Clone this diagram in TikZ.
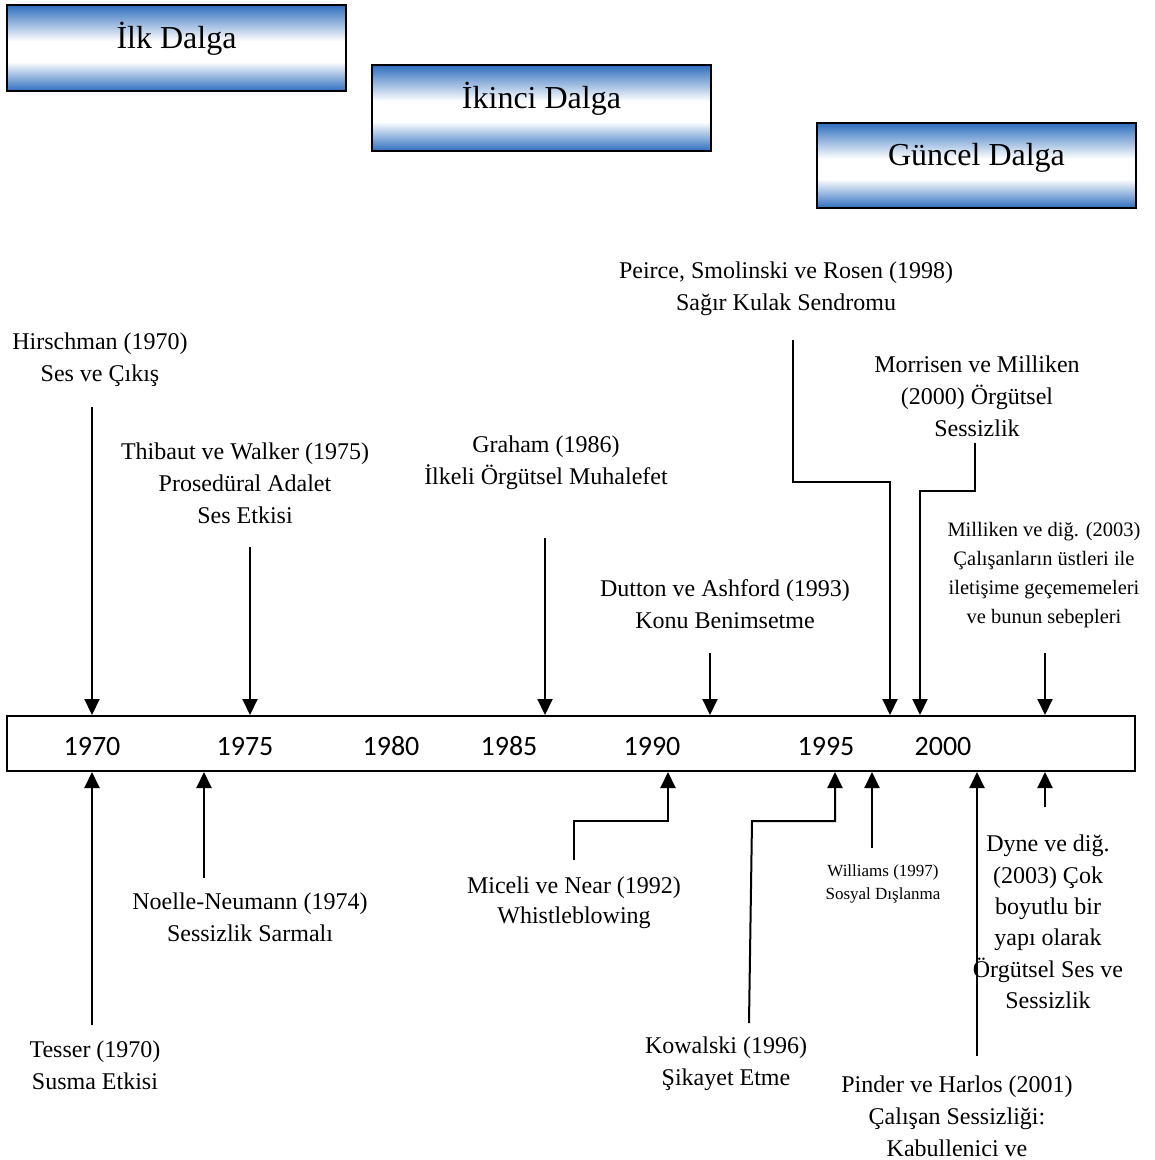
\documentclass[tikz,border=0pt]{standalone}
\usepackage{fontspec}
\setmainfont{Liberation Serif}
\newfontfamily\yearfont{Carlito}
\usetikzlibrary{arrows.meta}
\definecolor{waveblue}{RGB}{46,110,190}
\pgfdeclareverticalshading{wavefill}{100bp}{%
  color(0bp)=(waveblue); color(25bp)=(waveblue); color(42bp)=(white);
  color(54bp)=(white); color(75bp)=(waveblue); color(100bp)=(waveblue)}

\begin{document}
\begin{tikzpicture}[x=1pt,y=-1pt,
  wave/.style={draw=black, line width=2.5pt, shading=wavefill,
    minimum width=339pt, minimum height=86pt, inner sep=0pt,
    text height=22pt, text depth=22pt,
    font=\fontsize{32}{38}\selectfont},
  yearlbl/.style={inner sep=0pt, font=\yearfont\fontsize{28}{32}\selectfont},
  lbl/.style={inner sep=0pt, align=center, font=\fontsize{24}{32}\selectfont},
  smalllbl/.style={inner sep=0pt, align=center, font=\fontsize{20.5}{29}\selectfont},
  tinylbl/.style={inner sep=0pt, align=center, font=\fontsize{17}{23}\selectfont},
  arr/.style={line width=2pt, -{Triangle[length=16pt,width=15pt]}},
  link/.style={line width=2pt}
]
\fill[white] (0,0) rectangle (1155,1160);
\useasboundingbox (0,0) rectangle (1155,1160);

% the three waves
\node[wave] (w1) at (176.5,48) {İlk Dalga};
\node[wave] (w2) at (541.5,108) {İkinci Dalga};
\node[wave, minimum width=319pt, minimum height=85pt] (w3) at (976.5,165.5) {Güncel Dalga};

% time axis
\node[draw, line width=2pt, minimum width=1128pt, minimum height=55pt, inner sep=0pt] (tl) at (571,743.5) {};
\node[yearlbl] (y1970) at (92,746) {1970};
\node[yearlbl] (y1975) at (245,746) {1975};
\node[yearlbl] (y1980) at (391,746) {1980};
\node[yearlbl] (y1985) at (509,746) {1985};
\node[yearlbl] (y1990) at (652,746) {1990};
\node[yearlbl] (y1995) at (826,746) {1995};
\node[yearlbl] (y2000) at (943,746) {2000};

% labels above the axis
\node[lbl] (hirsch) at (100,360) {Hirschman (1970)\\Ses ve Çıkış};
\node[lbl] (thibaut) at (245,483) {Thibaut ve Walker (1975)\\Prosedüral Adalet\\Ses Etkisi};
\node[lbl] (graham) at (546,463) {Graham (1986)\\İlkeli Örgütsel Muhalefet};
\node[lbl] (dutton) at (725,604) {Dutton ve Ashford (1993)\\Konu Benimsetme};
\node[lbl] (peirce) at (786,289) {Peirce, Smolinski ve Rosen (1998)\\Sağır Kulak Sendromu};
\node[lbl] (morrisen) at (977,396) {Morrisen ve Milliken\\(2000) Örgütsel\\Sessizlik};
\node[smalllbl] (milliken) at (1044,575) {Milliken ve diğ. (2003)\\Çalışanların üstleri ile\\iletişime geçememeleri\\ve bunun sebepleri};

% labels below the axis
\node[lbl] (tesser) at (95,1065) {Tesser (1970)\\Susma Etkisi};
\node[lbl] (noelle) at (250,917) {Noelle-Neumann (1974)\\Sessizlik Sarmalı};
\node[lbl, font=\fontsize{24}{30}\selectfont] (miceli) at (574,903) {Miceli ve Near (1992)\\Whistleblowing};
\node[lbl] (kowalski) at (726,1064) {Kowalski (1996)\\Şikayet Etme};
\node[tinylbl] (williams) at (883,884) {Williams (1997)\\Sosyal Dışlanma};
\node[lbl] (pinder) at (957,1116) {Pinder ve Harlos (2001)\\Çalışan Sessizliği:\\Kabullenici ve};
\node[lbl, font=\fontsize{24}{31.4}\selectfont] (dyne) at (1048,922) {Dyne ve diğ.\\(2003) Çok\\boyutlu bir\\yapı olarak\\Örgütsel Ses ve\\Sessizlik};

% start points of the connectors
\coordinate (aHirsch) at (92,407);
\coordinate (aThibaut) at (250,547);
\coordinate (aGraham) at (545,538);
\coordinate (aDutton) at (710,653);
\coordinate (aPeirce) at (793,340);
\coordinate (bPeirce) at (890,482);
\coordinate (aMorrisen) at (975,443);
\coordinate (bMorrisen) at (920,491);
\coordinate (aMilliken) at (1045,653);
\coordinate (aTesser) at (92,1025);
\coordinate (aNoelle) at (204,878);
\coordinate (aMiceli) at (574,860);
\coordinate (bMiceli) at (668,821);
\coordinate (aKowalski) at (749,1023);
\coordinate (bKowalski) at (835,821);
\coordinate (aWilliams) at (872,848);
\coordinate (aPinder) at (977,1056);
\coordinate (aDyne) at (1045,807);

% connectors from above
\draw[arr] (aHirsch) -- (aHirsch |- tl.north);
\draw[arr] (aThibaut) -- (aThibaut |- tl.north);
\draw[arr] (aGraham) -- (aGraham |- tl.north);
\draw[arr] (aDutton) -- (aDutton |- tl.north);
\draw[arr] (aPeirce) |- (bPeirce) -- (bPeirce |- tl.north);
\draw[arr] (aMorrisen) |- (bMorrisen) -- (bMorrisen |- tl.north);
\draw[arr] (aMilliken) -- (aMilliken |- tl.north);

% connectors from below
\draw[arr] (aTesser) -- (aTesser |- tl.south);
\draw[arr] (aNoelle) -- (aNoelle |- tl.south);
\draw[arr] (aMiceli) |- (bMiceli) -- (bMiceli |- tl.south);
\draw[arr] (aKowalski) -- (752,821) -- (bKowalski) -- (bKowalski |- tl.south);
\draw[arr] (aWilliams) -- (aWilliams |- tl.south);
\draw[arr] (aPinder) -- (aPinder |- tl.south);
\draw[arr] (aDyne) -- (aDyne |- tl.south);
\end{tikzpicture}
\end{document}
